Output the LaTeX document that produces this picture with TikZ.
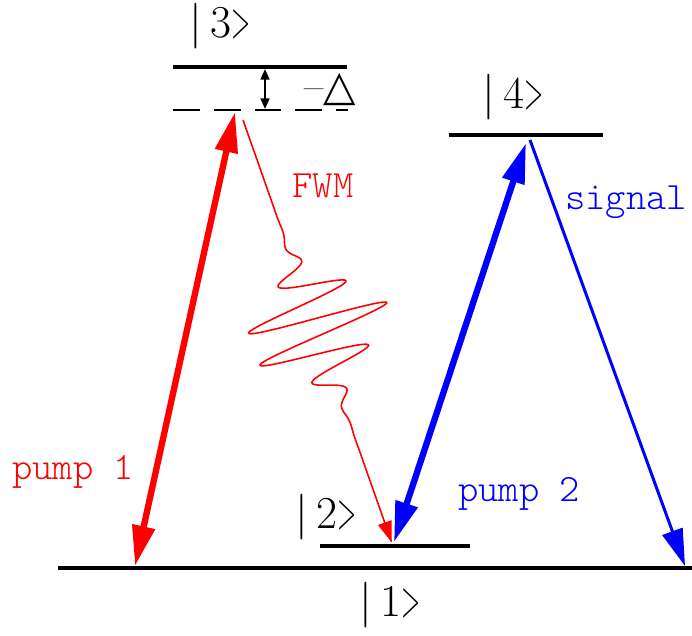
\documentclass[tikz,border=0pt]{standalone}
\usepackage{fontspec}
\setmonofont{Latin Modern Mono Light}
\usetikzlibrary{arrows.meta}
\newfontfamily\symfont{DejaVu Sans}
\newcommand{\ketof}[1]{|\,#1\scalebox{0.55}[1.15]{>}}

\begin{document}
\begin{tikzpicture}[x=0.02cm, y=-0.02cm,
  level/.style={line width=2.3pt},
  ket/.style={font=\fontsize{26}{28}\selectfont, inner sep=0pt},
  lbl/.style={font=\fontsize{22}{24}\selectfont\ttfamily, inner sep=0pt},
  pump/.style={line width=3.6pt, {Triangle[length=23pt,width=12.5pt]}-{Triangle[length=23pt,width=12.5pt]}},
  fwm/.style={red, line width=0.9pt, -{Triangle[length=12pt,width=8pt]}},
  declare function={wq(\s)=(\s-220)/47;
    wp(\s)=75*exp(0-wq(\s)*wq(\s))*cos(((\s-220)/35)*360);}
]
  \useasboundingbox (0,0) rectangle (692,635);

  % Levels
  \draw[level] (58,568) -- (692,568);
  \draw[level] (320,546) -- (470,546);
  \draw[level] (173,67) -- (347,67);
  \draw[level] (449,135) -- (603,135);
  \draw[line width=1.1pt, dash pattern=on 15.3pt off 7.9pt] (173,110) -- (348,110);

  % Kets
  \node[ket] (k1) at (390,605) {\ketof{1}};
  \node[ket] (k2) at (326,517) {\ketof{2}};
  \node[ket] (k3) at (220,26) {\ketof{3}};
  \node[ket] (k4) at (513,97) {\ketof{4}};
  \node[font=\fontsize{24}{26}\selectfont, inner sep=0pt] (det) at (330,90) {–{\symfont △}};

  % Ends of the transitions
  \coordinate (p1lo) at (135,566);
  \coordinate (p1hi) at (235,112);
  \coordinate (p2lo) at (394,542);
  \coordinate (p2hi) at (526,143);
  \coordinate (shi) at (530,140);
  \coordinate (slo) at (685,566);
  \coordinate (dhi) at (265,69);
  \coordinate (dlo) at (265,109);

  % Transitions
  \draw[pump, red] (p1lo) -- (p1hi);
  \draw[pump, blue] (p2lo) -- (p2hi);
  \draw[blue, line width=1.7pt, -{Triangle[length=21pt,width=12pt]}] (shi) -- (slo);
  \draw[line width=1.2pt, {Triangle[length=6pt,width=5pt]}-{Triangle[length=6pt,width=5pt]}] (dhi) -- (dlo);
  \draw[fwm] plot[domain=0:448, samples=450]
    ({243+0.332*\x+0.943*wp(\x)}, {120+0.943*\x-0.332*wp(\x)});

  % Labels
  \node[lbl, red] (l1) at (73,472) {pump 1};
  \node[lbl, red] (l2) at (323,186) {FWM};
  \node[lbl, blue] (l3) at (626,202) {signal};
  \node[lbl, blue] (l4) at (519,494) {pump 2};
\end{tikzpicture}
\end{document}
